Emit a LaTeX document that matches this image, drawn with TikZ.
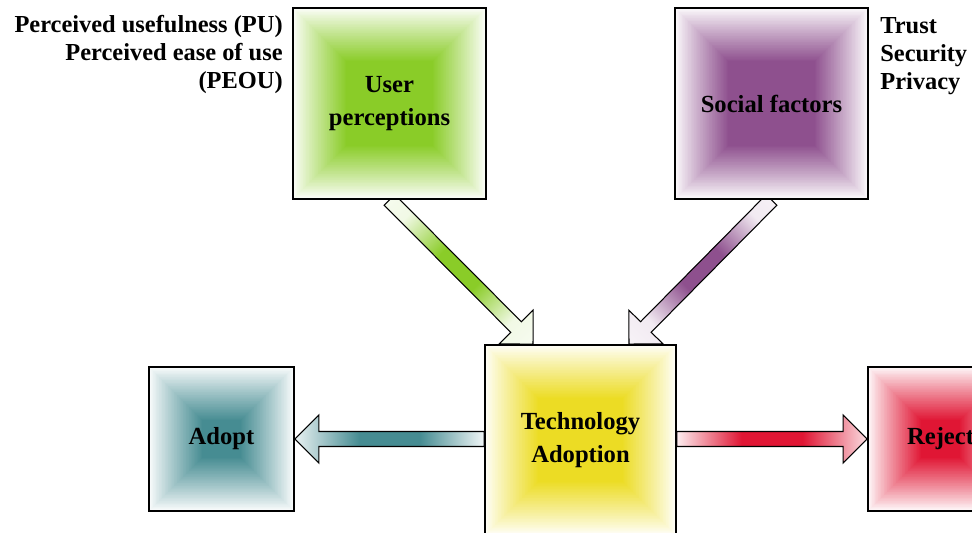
\documentclass[tikz,border=0pt]{standalone}
\usepackage{fontspec}
\setmainfont{Liberation Serif}
\usetikzlibrary{calc,backgrounds}

\definecolor{upgreen}{RGB}{138,204,40}
\definecolor{sfpurple}{RGB}{142,80,142}
\definecolor{adteal}{RGB}{70,140,146}
\definecolor{rjred}{RGB}{224,22,52}
\definecolor{tayellow}{RGB}{236,220,36}

\pgfdeclarehorizontalshading{greenbar}{100bp}{color(0bp)=(white); color(25bp)=(upgreen!12); color(42bp)=(upgreen); color(58bp)=(upgreen); color(75bp)=(upgreen!12); color(100bp)=(white)}
\pgfdeclarehorizontalshading{purplebar}{100bp}{color(0bp)=(white); color(25bp)=(sfpurple!12); color(42bp)=(sfpurple); color(58bp)=(sfpurple); color(75bp)=(sfpurple!12); color(100bp)=(white)}
\pgfdeclarehorizontalshading{tealbar}{100bp}{color(0bp)=(white); color(25bp)=(adteal!12); color(42bp)=(adteal); color(58bp)=(adteal); color(75bp)=(adteal!8); color(100bp)=(white)}
\pgfdeclarehorizontalshading{redbar}{100bp}{color(0bp)=(white); color(25bp)=(rjred!8); color(42bp)=(rjred); color(58bp)=(rjred); color(75bp)=(rjred!15); color(100bp)=(white)}

\tikzset{
    box/.style={draw, line width=1.1pt, inner sep=0pt, align=center,
        font=\fontsize{14}{18.5}\selectfont\bfseries},
    sidetext/.style={inner sep=0pt, font=\fontsize{13.9}{16}\selectfont\bfseries},
    fatarrow/.style={draw, line width=0.6pt},
}

% square gradient inside a box node
\newcommand{\boxshade}[2]{%
    \foreach \i in {0,...,72} {
        \pgfmathtruncatemacro\p{100*(\i/72)^0.9}
        \fill[#2!\p] ($(#1.south west)+(\i*0.015cm,\i*0.015cm)$) rectangle ($(#1.north east)-(\i*0.015cm,\i*0.015cm)$);
    }}

% block arrow from #1 to #2
\newcommand{\blockarrow}[4]{%
    \coordinate (hb) at ($(#2)!0.48cm!(#1)$);
    \path[fatarrow, shading=#3, shading angle=#4]
        ($(#1)!0.15cm!90:(#2)$)
        -- ($(hb)!0.15cm!90:(#2)$)
        -- ($(hb)!0.48cm!90:(#2)$)
        -- (#2)
        -- ($(hb)!0.48cm!-90:(#2)$)
        -- ($(hb)!0.15cm!-90:(#2)$)
        -- ($(#1)!0.15cm!-90:(#2)$)
        -- cycle;
}

\begin{document}
\begin{tikzpicture}[x=0.02cm, y=-0.02cm]
    \useasboundingbox (0,0) rectangle (972,533);
    \clip (0,0) rectangle (972,533);

    \node[box, minimum width=3.86cm, minimum height=3.82cm] (user) at (389.5,103.5) {User\\perceptions};
    \node[box, minimum width=3.86cm, minimum height=3.82cm] (social) at (771.5,103.5) {Social factors};
    \node[box, minimum width=3.82cm, minimum height=3.8cm] (tech) at (580.5,440) {Technology\\Adoption};
    \node[box, minimum width=2.9cm, minimum height=2.88cm] (adopt) at (221.5,439) {Adopt};
    \node[box, minimum width=2.9cm, minimum height=2.88cm] (reject) at (940.5,439) {Reject};

    \node[sidetext, anchor=north east, align=right] (pu) at (283,15)
        {Perceived usefulness (PU)\\Perceived ease of use\\(PEOU)};
    \node[sidetext, anchor=north west, align=left] (trust) at (880,17)
        {Trust\\Security\\Privacy};

    \coordinate (gtip) at ($(tech.north)+(-0.95cm,0)$);
    \coordinate (ptip) at ($(tech.north)+(0.97cm,0)$);

    \begin{scope}[on background layer]
        \clip (0,0) rectangle (972,533);
        % arrows first, boxes cover their ends
        \blockarrow{user.south}{gtip}{greenbar}{-45}
        \blockarrow{social.south}{ptip}{purplebar}{45}
        \blockarrow{tech.west |- adopt.east}{adopt.east}{tealbar}{0}
        \blockarrow{tech.east |- reject.west}{reject.west}{redbar}{0}

        \boxshade{user}{upgreen}
        \boxshade{social}{sfpurple}
        \boxshade{tech}{tayellow}
        \boxshade{adopt}{adteal}
        \boxshade{reject}{rjred}
    \end{scope}
\end{tikzpicture}
\end{document}
